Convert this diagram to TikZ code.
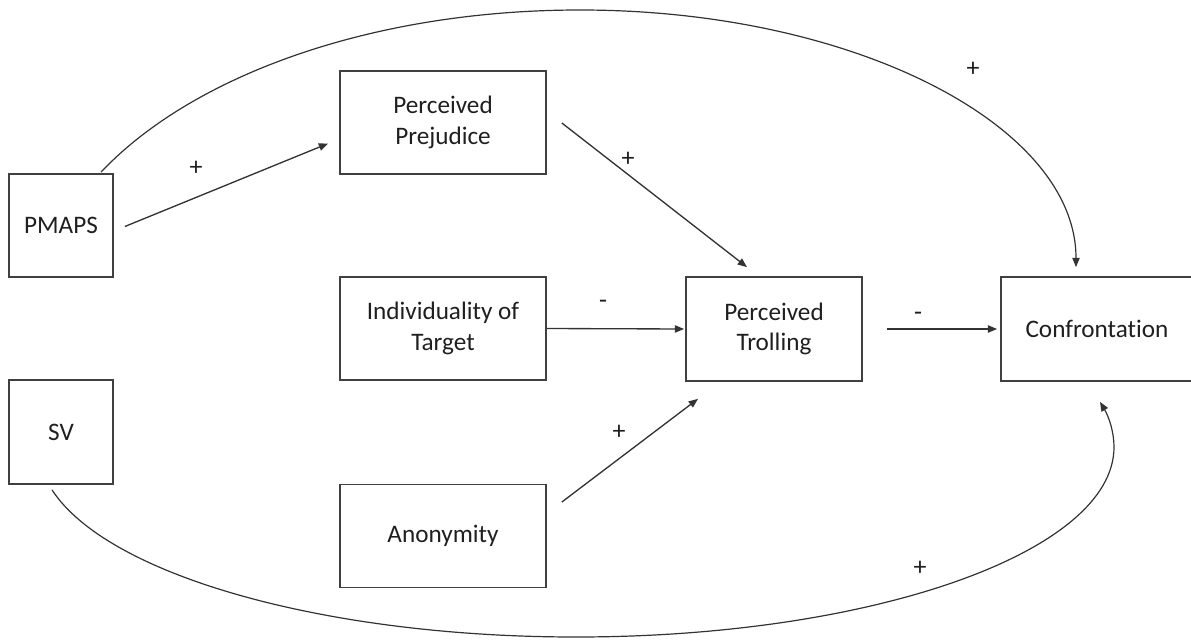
\documentclass[tikz,border=0pt]{standalone}
\usepackage{fontspec}
\setmainfont{Carlito}[RawFeature={-liga;-clig;-dlig;-calt}]
\usetikzlibrary{arrows.meta,calc}
\begin{document}
\begin{tikzpicture}[x=0.75pt,y=-0.75pt,
  box/.style={draw=black!75, line width=1.3pt, inner sep=0pt, align=center,
    text=black!88, font=\fontsize{18.9}{23}\selectfont},
  arr/.style={draw=black!80, line width=1pt, -{Triangle[length=7pt,width=5.5pt]}},
  curv/.style={draw=black!80, line width=0.9pt, -{Triangle[length=7pt,width=5.5pt]}},
  sign/.style={anchor=base, text=black!88, inner sep=0pt, font=\fontsize{19.5}{23}\selectfont}]
\clip (0,0) rectangle (1191,639);
% boxes
\node[box, minimum width=78pt, minimum height=77.25pt] (pmaps) at (61,225.5) {PMAPS};
\node[box, minimum width=78pt, minimum height=78pt] (sv) at (61,432) {SV};
\node[box, minimum width=154.5pt, minimum height=77.25pt] (prej) at (443,122.5) {Perceived\\Prejudice};
\node[box, minimum width=154.5pt, minimum height=77.25pt] (ind) at (443,328.5) {Individuality of\\Target};
\node[box, minimum width=154.5pt, minimum height=77.25pt] (anon) at (443,536) {Anonymity};
\node[box, minimum width=132pt, minimum height=78pt] (trol) at (774,329) {Perceived\\Trolling};
\node[box, minimum width=144pt, minimum height=78pt] (conf) at (1097,329) {Confrontat\kern0pt ion};
% straight arrows
\draw[arr] ($(pmaps.east)+(11,1)$) -- ($(prej.west)+(-11,21)$);
\draw[arr] ($(prej.east)+(15,0.5)$) -- ($(trol.north)+(-27,-9)$);
\draw[arr] (ind.east) -- ($(trol.west)+(-1,0)$);
\draw[arr] ($(anon.east)+(15,-34)$) -- ($(trol.south)+(-76,17)$);
\draw[arr] ($(trol.east)+(24,0)$) -- ($(conf.west)+(-3,0)$);
% curved arrows
\draw[curv] ($(pmaps.north)+(40,-1)$)
  .. controls (192.3,75.5) and (371.6,10) .. (580,10)
  .. controls (854,10) and (1076,125.5) .. ($(conf.north)+(-21,-9)$);
\draw[curv] ($(sv.south)+(-9,5)$)
  .. controls (107.7,575.5) and (324.8,637) .. (576,637)
  .. controls (873.1,637) and (1114,551.9) .. (1114,447)
  .. controls (1114,432.1) and (1109,417.1) .. ($(conf.south)+(3,20)$);
% signs
\node[sign] (s1) at (196,175) {+};
\node[sign] (s2) at (628,166) {+};
\node[sign] (s3) at (603,308) {-};
\node[sign] (s4) at (619,439) {+};
\node[sign] (s5) at (918,320) {-};
\node[sign] (s6) at (973,76) {+};
\node[sign] (s7) at (920,575) {+};
\end{tikzpicture}
\end{document}
